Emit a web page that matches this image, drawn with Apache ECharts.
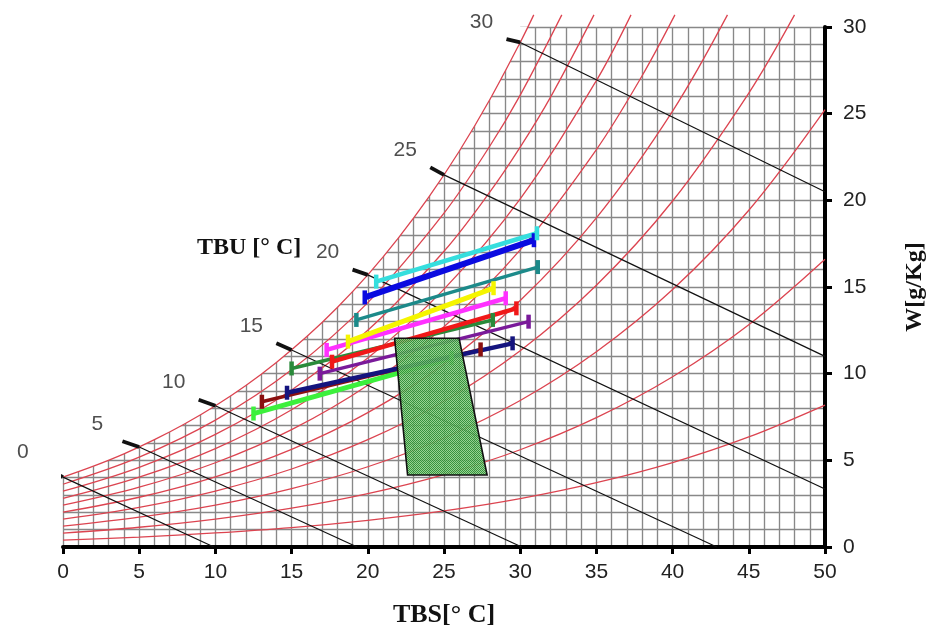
<!DOCTYPE html>
<html><head><meta charset="utf-8">
<script src="https://cdn.jsdelivr.net/npm/echarts@6/dist/echarts.min.js"></script>
<style>html,body{margin:0;padding:0;background:#fff}#c{width:935px;height:634px}</style>
</head><body><div id="c"></div>
<script>
// ---- Relative humidity curves [TBS °C, W g/kg] (10% ... 100%) ----
const RH10 = [[0,0.40],[5,0.57],[10,0.81],[15,1.12],[20,1.54],[25,2.08],[30,2.79],[35,3.71],[40,4.87],[45,6.35],[50,8.19]];
const RH20 = [[0,0.80],[5,1.14],[10,1.61],[15,2.24],[20,3.08],[25,4.18],[30,5.61],[35,7.46],[40,9.82],[45,12.82],[50,16.60]];
const RH30 = [[0,1.20],[5,1.72],[10,2.42],[15,3.37],[20,4.63],[25,6.29],[30,8.45],[35,11.26],[40,14.85],[45,19.43],[50,25.24]];
const RH40 = [[0,1.61],[5,2.29],[10,3.23],[15,4.50],[20,6.19],[25,8.41],[30,11.32],[35,15.10],[40,19.96],[45,26.19],[48,30.7]];
const RH50 = [[0,2.01],[5,2.87],[10,4.05],[15,5.63],[20,7.75],[25,10.55],[30,14.22],[35,18.99],[40,25.15],[43.6,30.7]];
const RH60 = [[0,2.41],[5,3.45],[10,4.86],[15,6.77],[20,9.33],[25,12.71],[30,17.14],[35,22.93],[38,27.19],[40.15,30.7]];
const RH70 = [[0,2.81],[5,4.03],[10,5.68],[15,7.92],[20,10.91],[25,14.88],[30,20.09],[35,26.91],[37.27,30.7]];
const RH80 = [[0,3.22],[5,4.60],[10,6.50],[15,9.06],[20,12.50],[25,17.06],[28,20.47],[30,23.07],[32,25.97],[34.84,30.7]];
const RH90 = [[0,3.62],[5,5.18],[10,7.32],[15,10.22],[20,14.10],[25,19.26],[28,23.12],[30,26.07],[32.73,30.7]];
const RH100 = [[0,4.03],[2,4.66],[4,5.37],[6,6.19],[8,7.11],[10,8.15],[12,9.32],[14,10.65],[16,12.14],[18,13.82],[20,15.70],[22,17.82],[24,20.18],[26,22.83],[28,25.80],[30,29.11],[30.89,30.7]];
const RH_CURVES = [RH10, RH20, RH30, RH40, RH50, RH60, RH70, RH80, RH90, RH100];

// ---- Wet-bulb temperature lines (TBU) ----
const TBU = [0, 5, 10, 15, 20, 25, 30];
const TBU_TAB = [[-1.0,4.48],[3.9,6.10],[8.9,8.50],[14.0,11.75],[19.0,16.00],[24.1,21.90],[29.1,29.30]];
const TBU_SAT = [[0,4.03],[5,5.77],[10,8.15],[15,11.37],[20,15.70],[25,21.47],[30,29.11]];
const TBU_END = [[9.9,0],[19.3,0],[30.1,0],[42.9,0],[50,3.35],[50,11.0],[50,20.5]];

// ---- Process lines [TBS, W] start -> end ----
const LIME    = [[12.5,7.70],[25.5,10.90]];
const MAROON  = [[13.05,8.38],[27.4,11.40]];
const NAVY    = [[14.7,8.90],[29.5,11.75]];
const GREEN   = [[15.0,10.30],[28.2,13.10]];
const PURPLE  = [[16.85,10.00],[30.55,13.00]];
const RED     = [[17.65,10.69],[29.75,13.77]];
const MAGENTA = [[17.3,11.37],[29.05,14.35]];
const YELLOW  = [[18.7,11.85],[28.25,14.93]];
const TEAL    = [[19.25,13.10],[31.15,16.15]];
const BLUE    = [[19.8,14.40],[30.9,17.70]];
const CYAN    = [[20.55,15.31],[31.1,18.10]];

// ---- Comfort zone polygon ----
const ZONE = [[21.76,12.04],[25.99,12.04],[27.83,4.15],[22.61,4.15]];

// ---- Axis ticks ----
const X_MIN = 0, X_MAX = 50, X_STEP = 5;
const Y_MIN = 0, Y_MAX = 30, Y_STEP = 5;

const chart = echarts.init(document.getElementById('c'), null, {renderer:'canvas'});

const pc = document.createElement('canvas'); pc.width = 2; pc.height = 2;
const g = pc.getContext('2d');
g.fillStyle = 'rgba(135,205,128,0.86)'; g.fillRect(0,0,2,2);
g.fillStyle = 'rgba(40,135,50,0.86)'; g.fillRect(0,0,1,1); g.fillRect(1,1,1,1);

const SMOOTH = 0.35;
const series = [];
// white mask above the saturation curve (hides grid there)
series.push({type:'line', data: RH100, symbol:'none', smooth:SMOOTH,
  lineStyle:{width:0}, areaStyle:{color:'#fff', opacity:1, origin:'end'}, z:1, silent:true});
// white strips over the grid's left and top edges above the saturation curve
series.push({type:'custom', z:2, silent:true, clip:false, data:[RH100[0]],
  renderItem: function(params, api){
    const p0 = api.coord(RH100[0]);
    const pTop = api.coord([X_MIN, Y_MAX]);
    const pEnd = api.coord([RH100[RH100.length-2][0], Y_MAX]);
    return {type:'group', children:[
      {type:'rect', shape:{x:pTop[0]-3, y:pTop[1]-3, width:4, height:p0[1]-pTop[1]}, style:{fill:'#fff'}},
      {type:'rect', shape:{x:pTop[0]-3, y:pTop[1]-3, width:pEnd[0]-pTop[0]+3, height:4}, style:{fill:'#fff'}}
    ]};
  }});
RH_CURVES.forEach(c => series.push({type:'line', data:c, symbol:'none', smooth:SMOOTH, clip:false,
  lineStyle:{color:'#dc4450', width:1.3}, z:3, silent:true}));
TBU.forEach((t,i) => {
  series.push({type:'line', data:[TBU_SAT[i], TBU_END[i]], symbol:'none', lineStyle:{color:'#111', width:1.2}, z:3, silent:true});
  series.push({type:'line', data:[TBU_TAB[i], TBU_SAT[i]], symbol:'none', clip:false, lineStyle:{color:'#111', width:3.8}, z:3, silent:true});
});
series.push({type:'scatter', clip:false, symbolSize:1, itemStyle:{color:'rgba(0,0,0,0)'}, z:4, silent:true,
  data: TBU_TAB.map((p,i) => ({value:p, label:{formatter:String(TBU[i])}})),
  label:{show:true, position:'inside', offset:[-25,-17], fontSize:21, color:'#222', fontFamily:'Liberation Sans'}});

const proc = [
  [LIME,'#3cf03c',5],[MAROON,'#8a1010',3.5],[NAVY,'#14147e',4.5],[GREEN,'#2a8a3a',3.5],
  [PURPLE,'#7a1a9a',3.5],[RED,'#f01818',4.5],[MAGENTA,'#ff30ff',4.5],[YELLOW,'#f5f500',5],
  [TEAL,'#1c8a8a',3.5],[BLUE,'#0a0ae0',6],[CYAN,'#35dede',4.5]
];
proc.forEach(([d,col,w]) => series.push({type:'line', data:d, symbol:'rect', symbolSize:[4.5,14], showSymbol:true,
  itemStyle:{color:col}, lineStyle:{color:col, width:w}, z:5, silent:true}));

series.push({type:'custom', z:6, silent:true, data:[ZONE[0]],
  renderItem: function(params, api){
    const pts = ZONE.map(p => api.coord(p));
    return {type:'polygon', shape:{points:pts}, style:{fill:{image:pc, repeat:'repeat'}, stroke:'#111', lineWidth:1.6}};
  }});

const axisCommon = {
  type:'value', axisLine:{show:true, onZero:false, lineStyle:{color:'#000', width:4}},
  axisTick:{show:true, length:7, lineStyle:{color:'#000', width:3}},
  minorTick:{show:false, splitNumber:5},
  splitLine:{show:true, lineStyle:{color:'#888', width:1.35}},
  minorSplitLine:{show:true, lineStyle:{color:'#888', width:1.35}},
};

chart.setOption({
  animation:false,
  backgroundColor:'#fff',
  grid:{left:63, right:105, top:27, bottom:87},
  xAxis: Object.assign({}, axisCommon, {min:X_MIN, max:X_MAX, interval:X_STEP, position:'bottom',
    axisLabel:{fontSize:21, color:'#222', margin:15, fontFamily:'Liberation Sans'},
    name:'TBS[° C]', nameLocation:'middle', nameGap:55,
    nameTextStyle:{fontFamily:'Liberation Serif', fontWeight:'bold', fontSize:26, color:'#111'}}),
  yAxis: Object.assign({}, axisCommon, {min:Y_MIN, max:Y_MAX, interval:Y_STEP, position:'right',
    axisLabel:{fontSize:21, color:'#222', margin:18, fontFamily:'Liberation Sans'},
    name:'W[g/Kg]', nameLocation:'middle', nameGap:78,
    nameTextStyle:{fontFamily:'Liberation Serif', fontWeight:'bold', fontSize:24, color:'#111'}}),
  graphic:[{type:'text', left:197, top:236, z:10,
    style:{text:'TBU [° C]', font:'bold 24px "Liberation Serif"', fill:'#111'}}],
  series: series
});
</script></body></html>
